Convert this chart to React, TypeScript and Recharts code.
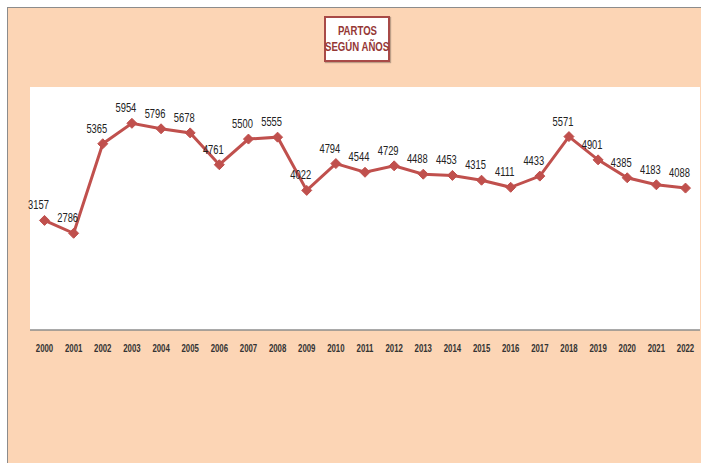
import React from 'react';
import { LineChart, Line, XAxis, YAxis, CartesianGrid, LabelList } from 'recharts';

// Partos por año
const years = [
  '2000', '2001', '2002', '2003', '2004', '2005', '2006', '2007', '2008', '2009', '2010', '2011',
  '2012', '2013', '2014', '2015', '2016', '2017', '2018', '2019', '2020', '2021', '2022',
];
const partos = [
  3157, 2786, 5365, 5954, 5796, 5678, 4761, 5500, 5555, 4022, 4794, 4544,
  4729, 4488, 4453, 4315, 4111, 4433, 5571, 4901, 4385, 4183, 4088,
];
const yDomain = [0, 7000];

const data = years.map((year, i) => ({ year, partos: partos[i] }));

const font = '"Liberation Sans", Arial, sans-serif';

const Diamond = (props: any) => {
  const { cx, cy } = props;
  if (cx == null || cy == null) return null;
  const r = 5;
  return (
    <path
      d={`M${cx},${cy - r}L${cx + r},${cy}L${cx},${cy + r}L${cx - r},${cy}Z`}
      fill="#C0504D"
      stroke="#C0504D"
    />
  );
};

// texto estrecho (tipo Calibri) escalando horizontalmente
const ValueLabel = (props: any) => {
  const { x, y, value } = props;
  return (
    <text
      transform={`translate(${x - 6},${y - 11}) scale(0.78,1)`}
      textAnchor="middle"
      fontSize={12}
      fill="#222"
      fontFamily={font}
    >
      {value}
    </text>
  );
};

const YearTick = (props: any) => {
  const { x, y, payload } = props;
  return (
    <text
      transform={`translate(${x},${y + 6}) scale(0.78,1)`}
      textAnchor="middle"
      fontSize={10}
      fill="#333"
      fontWeight="bold"
      fontFamily={font}
    >
      {payload.value}
    </text>
  );
};

export default function App() {
  return (
    <div
      style={{
        position: 'absolute',
        left: 0,
        top: 0,
        width: 701,
        height: 463,
        background: '#fff',
        overflow: 'hidden',
      }}
    >
      <div
        style={{
          position: 'absolute',
          left: 7,
          top: 7,
          width: 700,
          height: 460,
          background: '#FCD5B5',
          borderTop: '1.5px solid #8c8c8c',
          borderLeft: '1.5px solid #8c8c8c',
        }}
      />
      <div style={{ position: 'absolute', left: 0, top: 0 }}>
        <LineChart
          width={701}
          height={463}
          data={data}
          margin={{ top: 87, right: 1, left: 30, bottom: 103 }}
        >
          <CartesianGrid horizontal={false} vertical={false} fill="#ffffff" />
          <XAxis
            dataKey="year"
            height={30}
            padding={{ left: 14.5, right: 14.5 }}
            axisLine={{ stroke: '#8c8c8c', strokeWidth: 1.5 }}
            tickLine={false}
            tickMargin={10}
            interval={0}
            tick={<YearTick />}
          />
          <YAxis hide domain={yDomain} />
          <Line
            type="linear"
            dataKey="partos"
            stroke="#C0504D"
            strokeWidth={3}
            dot={<Diamond />}
            isAnimationActive={false}
          >
            <LabelList dataKey="partos" content={<ValueLabel />} />
          </Line>
        </LineChart>
      </div>
      <div
        style={{
          position: 'absolute',
          left: 324,
          top: 16,
          width: 62,
          height: 42,
          background: '#fff',
          border: '2px solid #A84A47',
          boxShadow: '1px 1px 1px rgba(0,0,0,0.25)',
          color: '#953735',
          fontFamily: font,
          fontWeight: 'bold',
          fontSize: 12,
          lineHeight: '16px',
          textAlign: 'center',
          whiteSpace: 'nowrap',
          display: 'flex',
          flexDirection: 'column',
          justifyContent: 'center',
          alignItems: 'center',
        }}
      >
        <div style={{ transform: 'scaleX(0.8)' }}>PARTOS</div>
        <div style={{ transform: 'scaleX(0.8)' }}>SEGÚN AÑOS</div>
      </div>
    </div>
  );
}
